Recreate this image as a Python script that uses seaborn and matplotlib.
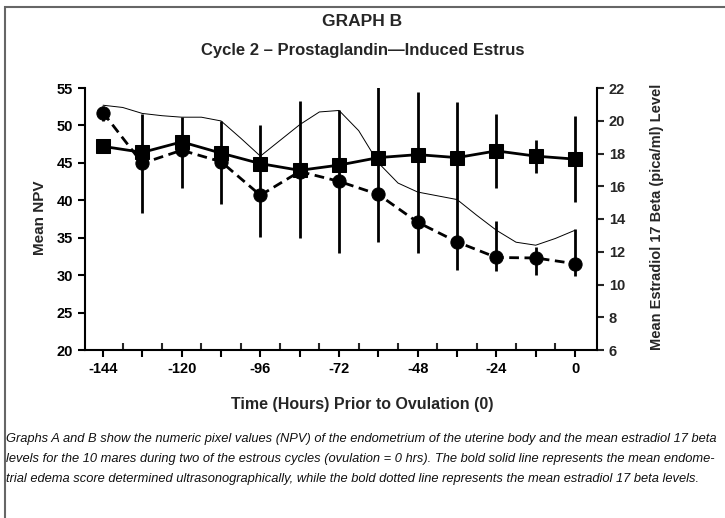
import numpy as np
import matplotlib
matplotlib.use("Agg")
import matplotlib.pyplot as plt
import seaborn as sns
from matplotlib.patches import Rectangle

# 数据
hours = [-144, -132, -120, -108, -96, -84, -72, -60, -48, -36, -24, -12, 0]
npv_mean = [47.2, 46.4, 47.8, 46.3, 44.9, 44.0, 44.7, 45.7, 46.1, 45.7, 46.6, 45.9, 45.5]
npv_lo = [46.3, 38.3, 41.7, 39.5, 35.1, 34.9, 32.9, 34.4, 32.9, 30.7, 41.7, 43.7, 39.8]
npv_hi = [48.2, 51.5, 51.1, 50.6, 50.0, 53.3, 52.0, 55.7, 54.4, 53.1, 51.5, 48.0, 51.3]

e2_mean = [20.5, 17.4, 18.2, 17.5, 15.45, 16.9, 16.3, 15.5, 13.8, 12.6, 11.65, 11.62, 11.27]
e2_bar_hours = [-144, -24, -12, 0]
e2_lo = [20.0, 10.8, 10.6, 10.5]
e2_hi = [20.9, 13.9, 12.3, 13.4]

thin_hours = [-144, -138, -132, -126, -120, -114, -108, -102, -96, -90, -84, -78, -72,
              -66, -60, -54, -48, -42, -36, -30, -24, -18, -12, -6, 0]
thin_vals = [52.7, 52.4, 51.6, 51.3, 51.1, 51.1, 50.6, 48.3, 45.9, 48.0, 50.1, 51.8, 52.0,
             49.3, 45.0, 42.3, 41.1, 40.6, 40.1, 38.0, 36.0, 34.4, 34.0, 34.9, 36.0]

sns.set_style("ticks")
plt.rcParams["font.family"] = ["Liberation Sans", "DejaVu Sans"]

W, H = 725, 518
fig = plt.figure(figsize=(W / 100, H / 100), dpi=100)
ax = fig.add_axes([85 / W, 1 - 350 / H, (597 - 85) / W, (350 - 88) / H])
ax2 = ax.twinx()

# 细线
sns.lineplot(x=thin_hours, y=thin_vals, ax=ax, color="black", lw=0.7, zorder=2)
# NPV 误差线与均值
ax.vlines(hours, npv_lo, npv_hi, color="black", lw=2, zorder=3)
sns.lineplot(x=hours, y=npv_mean, ax=ax, color="black", lw=2, marker="s",
             markersize=10, markeredgecolor="black", zorder=4)
# 雌二醇
ax2.vlines(e2_bar_hours, e2_lo, e2_hi, color="black", lw=2, zorder=3)
sns.lineplot(x=hours, y=e2_mean, ax=ax2, color="black", lw=2, linestyle=(0, (3.5, 2)),
             marker="o", markersize=9.5, markeredgecolor="black", zorder=4)

ax.set_xlim(-149.5, 6.7)
ax.set_ylim(20, 55)
ax2.set_ylim(6, 22)

xt = np.arange(-144, 1, 12)
ax.set_xticks(xt)
ax.set_xticklabels([str(h) if h % 24 == 0 else "" for h in xt])
ax.set_xticks(np.arange(-138, 0, 12), minor=True)
ax.set_yticks(np.arange(20, 56, 5))
ax2.set_yticks(np.arange(6, 23, 2))

ax.tick_params(axis="both", which="major", direction="out", length=5, width=1.5,
               labelsize=10.5, colors="black")
ax.tick_params(axis="x", which="minor", direction="in", length=5, width=1.5)
ax2.tick_params(axis="y", direction="out", length=5, width=1.5, labelsize=10.5)
for lab in ax.get_xticklabels() + ax.get_yticklabels() + ax2.get_yticklabels():
    lab.set_fontweight("bold")

ax.set_xlabel("")
ax.set_ylabel("")
ax2.set_ylabel("")
ax.spines["top"].set_visible(False)
ax.spines["right"].set_visible(False)
for s in ["top", "left", "bottom"]:
    ax2.spines[s].set_visible(False)
for sp in [ax.spines["left"], ax.spines["bottom"], ax2.spines["right"]]:
    sp.set_linewidth(1.5)
    sp.set_color("black")

# 文字
fig.text(0.5, 1 - 22 / H, "GRAPH B", ha="center", va="center", fontsize=12.5, weight="bold")
fig.text(0.5, 1 - 50 / H, "Cycle 2 \u2013 Prostaglandin\u2014Induced Estrus",
         ha="center", va="center", fontsize=12, weight="bold")
fig.text(40 / W, 1 - 218 / H, "Mean NPV", rotation=90, ha="center", va="center",
         fontsize=11, weight="bold")
fig.text(657 / W, 1 - 217 / H, "Mean Estradiol 17 Beta (pica/ml) Level", rotation=90,
         ha="center", va="center", fontsize=10.5, weight="bold")
fig.text(0.5, 1 - 405 / H, "Time (Hours) Prior to Ovulation (0)", ha="center", va="center",
         fontsize=11.5, weight="bold")

caption = [
    "Graphs A and B show the numeric pixel values (NPV) of the endometrium of the uterine body and the mean estradiol 17 beta",
    "levels for the 10 mares during two of the estrous cycles (ovulation = 0 hrs). The bold solid line represents the mean endome-",
    "trial edema score determined ultrasonographically, while the bold dotted line represents the mean estradiol 17 beta levels.",
]
for i, line in enumerate(caption):
    fig.text(6 / W, 1 - (439 + 20 * i) / H, line, ha="left", va="center",
             fontsize=9.3, style="italic", color="#111111")

# 外框
fig.add_artist(Rectangle((5 / W, -0.1), 1.2, 1.1 - 7 / H, transform=fig.transFigure,
                         fill=False, edgecolor="#666666", lw=1.5))

fig.savefig("out.png", dpi=100)
